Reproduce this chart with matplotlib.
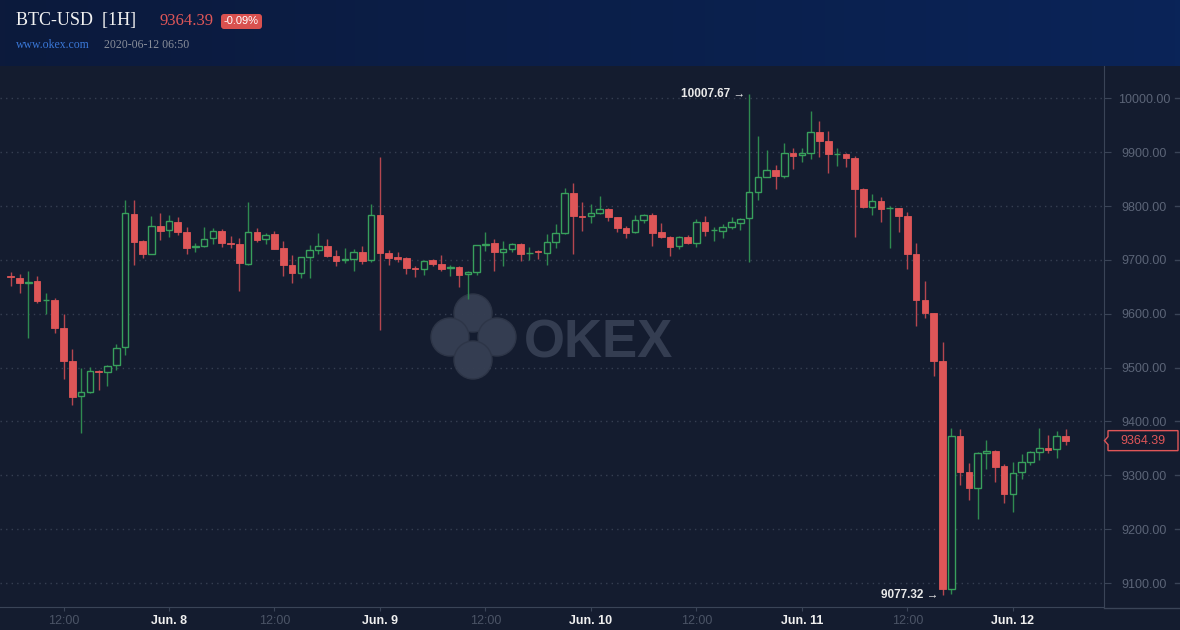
import matplotlib
matplotlib.use("Agg")
import matplotlib.pyplot as plt
import matplotlib.dates as mdates
import matplotlib.patches as mpatches
from matplotlib.colors import LinearSegmentedColormap
from matplotlib.ticker import FixedLocator, FormatStrFormatter
import numpy as np
import pandas as pd

# BTC-USD 1H candles, first candle 2020-06-07 06:00
start_time = "2020-06-07 06:00"
opens = [
    9670.0, 9665.7, 9657.2, 9660.8, 9624.8, 9625.5, 9573.5, 9512.2, 9446.6, 9455.3,
    9493.0, 9491.2, 9504.2, 9537.6, 9785.2, 9735.0, 9711.5, 9762.9, 9754.8, 9770.3,
    9751.7, 9723.9, 9726.4, 9740.0, 9753.6, 9731.3, 9729.5, 9692.9, 9751.7, 9738.1,
    9748.0, 9722.0, 9690.5, 9676.2, 9706.0, 9718.9, 9725.1, 9706.6, 9699.8, 9702.2,
    9714.6, 9699.1, 9782.7, 9712.1, 9704.7, 9702.9, 9684.9, 9682.4, 9699.1, 9692.3,
    9684.9, 9686.8, 9673.2, 9678.1, 9728.2, 9730.7, 9715.2, 9720.8, 9729.5, 9712.1,
    9716.5, 9713.4, 9733.8, 9750.5, 9823.6, 9781.5, 9780.9, 9787.7, 9794.5, 9779.0,
    9758.6, 9751.1, 9774.7, 9783.3, 9751.8, 9742.5, 9726.4, 9741.9, 9732.0, 9770.4,
    9754.9, 9754.2, 9761.0, 9769.1, 9777.1, 9826.7, 9854.5, 9866.3, 9856.4, 9898.4,
    9894.7, 9899.0, 9937.4, 9920.7, 9895.9, 9896.5, 9889.1, 9831.6, 9798.8, 9809.3,
    9795.7, 9796.3, 9781.4, 9710.9, 9625.5, 9601.3, 9512.2, 9089.5, 9372.9, 9306.1,
    9277.0, 9340.8, 9345.1, 9317.2, 9265.9, 9305.5, 9325.3, 9343.9, 9350.7, 9348.2,
    9372.9,
]
highs = [
    9677.5, 9673.8, 9679.3, 9670.0, 9638.5, 9628.6, 9599.5, 9534.5, 9499.8, 9501.1,
    9494.9, 9504.2, 9543.8, 9811.1, 9811.1, 9736.9, 9781.4, 9787.0, 9783.3, 9779.6,
    9761.0, 9731.3, 9761.0, 9759.2, 9757.3, 9744.3, 9740.6, 9807.4, 9759.2, 9749.3,
    9753.6, 9735.0, 9709.0, 9705.3, 9727.6, 9749.9, 9738.8, 9718.3, 9722.0, 9719.6,
    9725.8, 9803.7, 9891.0, 9718.3, 9714.6, 9705.3, 9688.6, 9699.1, 9701.6, 9709.0,
    9690.5, 9688.6, 9678.7, 9727.6, 9751.7, 9738.1, 9735.0, 9730.7, 9730.7, 9723.9,
    9718.3, 9748.0, 9766.6, 9832.8, 9842.7, 9807.5, 9803.8, 9818.6, 9795.7, 9779.6,
    9762.9, 9782.7, 9784.6, 9787.0, 9768.5, 9744.3, 9743.7, 9745.6, 9775.3, 9780.9,
    9760.4, 9766.0, 9779.0, 9777.8, 10007.67, 9930.0, 9904.0, 9876.2, 9916.4, 9907.7,
    9907.1, 9976.4, 9957.8, 9939.2, 9907.7, 9897.8, 9892.2, 9833.4, 9822.3, 9816.7,
    9800.0, 9796.9, 9788.8, 9731.3, 9660.7, 9601.3, 9547.5, 9387.8, 9385.9, 9322.8,
    9342.6, 9365.5, 9347.0, 9320.9, 9324.7, 9339.5, 9345.7, 9387.8, 9374.8, 9382.2,
    9385.9,
]
lows = [
    9652.1, 9639.1, 9555.5, 9620.5, 9600.1, 9564.8, 9479.4, 9431.1, 9379.2, 9453.4,
    9459.0, 9466.4, 9496.1, 9524.0, 9691.1, 9704.1, 9710.5, 9737.5, 9742.5, 9746.2,
    9710.9, 9715.2, 9723.9, 9729.5, 9723.9, 9722.0, 9642.8, 9691.1, 9733.2, 9729.5,
    9719.6, 9670.1, 9657.7, 9666.9, 9666.9, 9711.5, 9705.3, 9689.2, 9694.8, 9680.0,
    9692.9, 9696.7, 9570.4, 9691.1, 9696.7, 9673.8, 9668.8, 9672.5, 9688.0, 9680.0,
    9670.7, 9650.2, 9628.0, 9672.5, 9717.1, 9680.0, 9689.2, 9715.2, 9697.9, 9699.8,
    9702.2, 9691.1, 9722.7, 9748.0, 9710.9, 9754.2, 9769.1, 9785.8, 9772.8, 9752.4,
    9740.6, 9749.3, 9769.1, 9726.4, 9740.6, 9707.2, 9720.8, 9730.1, 9724.5, 9745.0,
    9735.7, 9741.2, 9758.0, 9756.1, 9696.7, 9811.2, 9853.9, 9832.2, 9852.0, 9868.7,
    9881.7, 9887.3, 9891.6, 9861.9, 9874.9, 9873.0, 9743.1, 9796.9, 9783.3, 9770.3,
    9722.0, 9751.7, 9683.0, 9577.8, 9592.7, 9485.0, 9077.32, 9079.0, 9282.0, 9254.7,
    9219.5, 9312.3, 9288.2, 9249.2, 9232.5, 9293.7, 9319.7, 9328.4, 9342.0, 9332.7,
    9356.8,
]
closes = [
    9668.5, 9657.7, 9658.3, 9624.2, 9626.0, 9574.1, 9512.8, 9446.0, 9454.0, 9493.0,
    9491.0, 9502.3, 9535.7, 9786.4, 9733.8, 9711.5, 9762.3, 9754.2, 9771.5, 9752.4,
    9722.6, 9725.1, 9738.1, 9753.0, 9731.9, 9730.1, 9694.8, 9751.1, 9736.9, 9745.5,
    9720.8, 9690.5, 9676.2, 9704.7, 9717.7, 9725.1, 9706.6, 9697.9, 9701.0, 9714.0,
    9697.9, 9782.7, 9713.4, 9704.1, 9701.6, 9685.5, 9682.4, 9697.3, 9692.3, 9683.1,
    9686.1, 9672.5, 9676.9, 9727.0, 9729.5, 9715.2, 9719.6, 9728.8, 9711.5, 9713.4,
    9714.6, 9732.6, 9749.3, 9823.6, 9782.1, 9779.6, 9786.4, 9793.8, 9780.2, 9759.8,
    9750.5, 9773.4, 9782.7, 9750.5, 9743.1, 9724.5, 9741.9, 9732.0, 9769.7, 9754.2,
    9756.1, 9760.4, 9770.4, 9775.3, 9825.4, 9853.3, 9866.3, 9856.4, 9897.8, 9893.5,
    9898.4, 9936.8, 9921.3, 9897.2, 9897.2, 9889.7, 9832.2, 9798.8, 9809.3, 9795.0,
    9796.9, 9782.0, 9711.5, 9626.1, 9602.0, 9512.8, 9089.5, 9372.9, 9306.7, 9277.0,
    9340.8, 9345.1, 9316.0, 9265.9, 9303.6, 9324.1, 9342.6, 9350.1, 9347.0, 9372.3,
    9364.39,
]
times = pd.date_range(start_time, periods=len(opens), freq="h")

symbol = "BTC-USD  [1H]"
last_price = 9364.39
change_text = "-0.09%"
site_text = "www.okex.com"
stamp_text = "2020-06-12 06:50"
y_ticks = [9100, 9200, 9300, 9400, 9500, 9600, 9700, 9800, 9900, 10000]
x_tick_times = pd.date_range("2020-06-07 12:00", "2020-06-12 00:00", freq="12h")

# colours
BG = "#141c2f"
RED = "#df5658"
RED_WICK = "#b5464f"
GREEN = "#38a05c"
GREEN_WICK = "#2f8a50"
AXIS = "#3a4457"
GRID = "#363f52"
LABEL = "#5b6477"
MARK = "#343d51"

W, H = 1180, 630
fig = plt.figure(figsize=(W / 100, H / 100), dpi=100)
fig.patch.set_facecolor(BG)

# background layer in pixel coordinates: header band, watermark, bottom rule
bg = fig.add_axes([0, 0, 1, 1])
bg.axis("off")
head_cmap = LinearSegmentedColormap.from_list("head", ["#0c1a3c", "#0b1f4a", "#0a2458"])
bg.imshow(np.linspace(0, 1, 256)[None, :], cmap=head_cmap, aspect="auto",
          extent=(0, W, 66, 0))
for cx, cy in [(473, 313), (450, 337), (497, 337), (473, 360)]:
    bg.add_patch(mpatches.Circle((cx, cy), 19, facecolor=MARK, edgecolor="#2d3547", lw=1))
bg.text(524, 357, "OKEX", fontsize=38, fontweight="bold", color=MARK,
        family="Liberation Sans", ha="left", va="baseline")
bg.plot([1104, W], [607.5, 607.5], color=AXIS, lw=1)
bg.set_xlim(0, W)
bg.set_ylim(H, 0)

# header texts
bg.text(16, 21, symbol, fontsize=13, color="#f2f2f2", family="Liberation Serif", va="center")
bg.text(160, 21, f"{last_price:.2f}", fontsize=12, color=RED, family="Liberation Serif", va="center")
bg.add_patch(mpatches.FancyBboxPatch((221, 14), 41, 15, boxstyle="round,pad=0,rounding_size=3",
                                     facecolor="#d9514f", edgecolor="none"))
bg.text(241.5, 21.5, change_text, fontsize=8, color="white", family="Liberation Sans",
        ha="center", va="center")
bg.text(16, 45, site_text, fontsize=8.5, color="#3a78d8", family="Liberation Serif", va="center")
bg.text(104, 45, stamp_text, fontsize=8.5, color="#8a8f9a", family="Liberation Serif", va="center")

# main chart
ax = fig.add_axes([0, (H - 607) / H, 1104 / W, (607 - 66) / H])
ax.set_facecolor("none")

x = mdates.date2num(times)
w = 0.75 / 24
up = [c >= o for o, c in zip(opens, closes)]
wick_cols = [GREEN_WICK if u else RED_WICK for u in up]
ax.vlines(x, lows, highs, colors=wick_cols, lw=1, zorder=2)
for xi, o, c, u in zip(x, opens, closes, up):
    bottom = min(o, c)
    height = max(abs(c - o), 0.8)
    if u:
        rect = mpatches.Rectangle((xi - w / 2, bottom), w, height, facecolor=BG,
                                  edgecolor=GREEN, lw=1, zorder=3)
    else:
        rect = mpatches.Rectangle((xi - w / 2, bottom), w, height, facecolor=RED,
                                  edgecolor=RED, lw=0.6, zorder=3)
    ax.add_patch(rect)

t0 = mdates.date2num(pd.Timestamp("2020-06-08 00:00"))
px_hour = 8.79
ax.set_xlim(t0 - 169 / px_hour / 24, t0 + (1104 - 169) / px_hour / 24)
ax.set_ylim(9055.5, 10060)

# max / min labels
i_max = int(np.argmax(highs))
i_min = int(np.argmin(lows))
ann_font = dict(fontsize=8.5, fontweight="bold", color="#e9e9e9",
                family=["Liberation Sans", "DejaVu Sans"], ha="right", va="center")
ax.annotate(f"{highs[i_max]:.2f} \u2192", xy=(x[i_max], highs[i_max]), xytext=(-4, 0),
            textcoords="offset pixels", **ann_font)
ax.annotate(f"{lows[i_min]:.2f} \u2192", xy=(x[i_min], lows[i_min]), xytext=(-4, 0),
            textcoords="offset pixels", **ann_font)

# axes styling
for s in ["top", "left"]:
    ax.spines[s].set_visible(False)
for s in ["right", "bottom"]:
    ax.spines[s].set_color(AXIS)
ax.yaxis.tick_right()
ax.set_yticks(y_ticks)
ax.yaxis.set_major_formatter(FormatStrFormatter("%.2f"))
ax.tick_params(axis="y", length=5, color=AXIS, labelcolor=LABEL, labelsize=9, pad=23.8)
for lbl in ax.get_yticklabels():
    lbl.set_horizontalalignment("center")
    lbl.set_family("Liberation Sans")
ax.grid(axis="y", color=GRID, linestyle=(0, (1, 3)), lw=1)
ax.set_axisbelow(True)

ax.xaxis.set_major_locator(FixedLocator(mdates.date2num(x_tick_times)))
ax.set_xticklabels(["12:00" if t.hour == 12 else f"Jun. {t.day}" for t in x_tick_times])
ax.tick_params(axis="x", length=3, color=AXIS, labelsize=9, pad=3)
for lbl, t in zip(ax.get_xticklabels(), x_tick_times):
    lbl.set_family("Liberation Sans")
    if t.hour == 12:
        lbl.set_color("#4b5466")
    else:
        lbl.set_color("#f0f0f0")
        lbl.set_fontweight("bold")

# small dashes at the right edge of the price scale
ytr = ax.get_yaxis_transform()
for v in y_ticks:
    ax.plot([1175 / 1104, 1180 / 1104], [v, v], transform=ytr, color=AXIS, lw=1, clip_on=False)

# current price tag
ppu = 541 / (10060 - 9055.5)
hh = 10 / ppu
nh = 4 / ppu
tag = [(1104.5 / 1104, last_price), (1108 / 1104, last_price + nh), (1108 / 1104, last_price + hh),
       (1178 / 1104, last_price + hh), (1178 / 1104, last_price - hh), (1108 / 1104, last_price - hh),
       (1108 / 1104, last_price - nh)]
ax.add_patch(mpatches.Polygon(tag, closed=True, transform=ytr, facecolor=BG, edgecolor=RED,
                              lw=1, clip_on=False, zorder=5))
ax.text(1143 / 1104, last_price, f"{last_price:.2f}", transform=ytr, color=RED, fontsize=9,
        family="Liberation Sans", ha="center", va="center", zorder=6)

fig.savefig("out.png", dpi=100, facecolor=BG)
